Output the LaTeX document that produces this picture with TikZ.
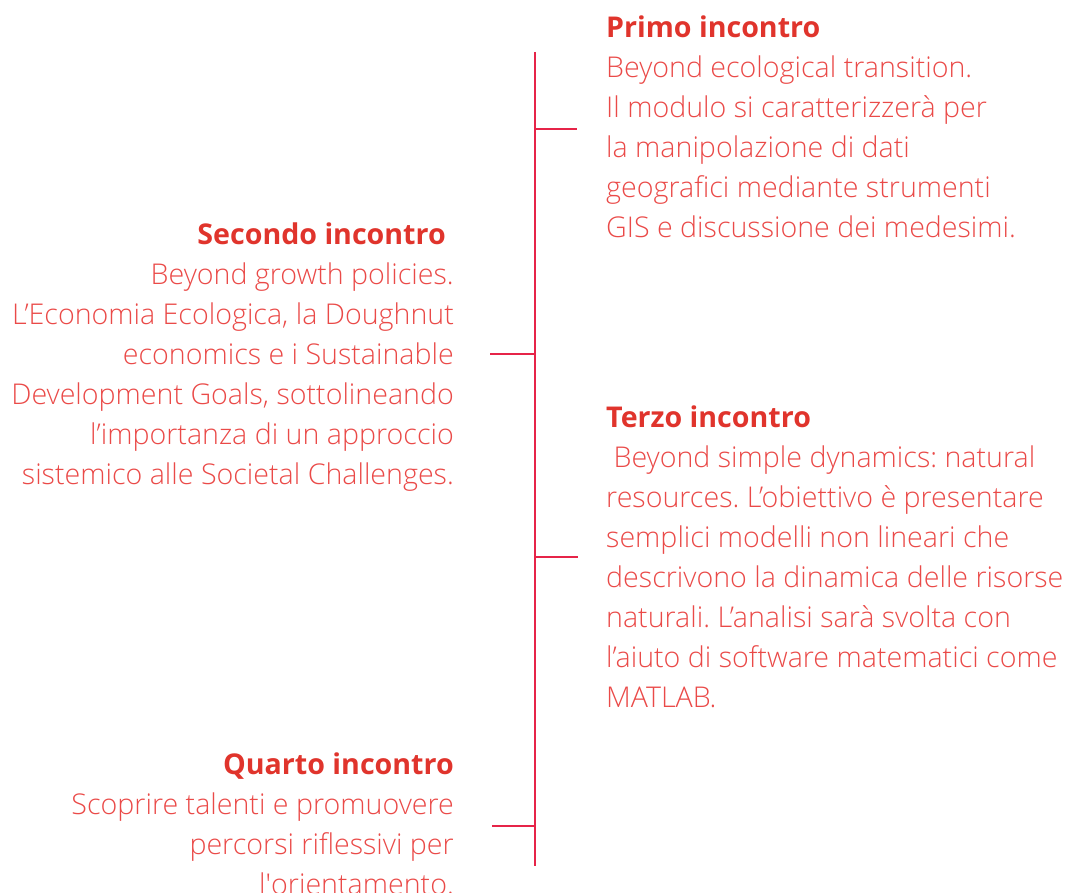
\documentclass[tikz,border=0pt]{standalone}
\usepackage{fontspec}
\setmainfont{Open Sans}[UprightFont={* Light},BoldFont={* Bold}]
\newfontfamily\plainquote{Open Sans}[UprightFont={* Light},Ligatures=ResetAll]
\usepackage{tikz}
\frenchspacing

\definecolor{textred}{RGB}{234,74,72}
\definecolor{headred}{RGB}{224,52,44}
\definecolor{linered}{RGB}{230,36,72}

\begin{document}
\begin{tikzpicture}[x=1pt,y=1pt,
		right node/.style={anchor=north west,align=left,inner sep=0pt,text=textred,
			font=\fontsize{28.6}{40}\selectfont},
		left node/.style={anchor=north east,align=right,inner sep=0pt,text=textred,
			font=\fontsize{28.6}{40}\selectfont},
		stub/.style={draw=linered,line width=1.6pt}]
	\useasboundingbox (0,0) rectangle (1066,892);
	% spine
	\coordinate (top) at (535,840);
	\coordinate (bot) at (535,26);
	\draw[stub] (top) -- (bot);
	% blocks
	\node[right node] (primo) at (606,883) {\strut\textcolor{headred}{\textbf{Primo incontro}}\\
		Beyond ecological transition.\\
		Il modulo si caratterizzerà per\\
		la manipolazione di dati\\
		geografici mediante strumenti\\
		GIS e discussione dei medesimi.};
	\node[left node] (secondo) at (454,676) {\strut\textcolor{headred}{\textbf{Secondo incontro}}\kern8pt\\
		Beyond growth policies.\\
		L’Economia Ecologica, la Doughnut\\
		economics e i Sustainable\\
		Development Goals, sottolineando\\
		l’importanza di un approccio\\
		sistemico alle Societal Challenges.};
	\node[right node] (terzo) at (606,493) {\strut\textcolor{headred}{\textbf{Terzo incontro}}\\
		\ Beyond simple dynamics: natural\\
		resources. L’obiettivo è presentare\\
		semplici modelli non lineari che\\
		descrivono la dinamica delle risorse\\
		naturali. L’analisi sarà svolta con\\
		l’aiuto di software matematici come\\
		MATLAB.};
	\node[left node] (quarto) at (454,146) {\strut\textcolor{headred}{\textbf{Quarto incontro}}\\
		Scoprire talenti e promuovere\\
		percorsi riflessivi per\\
		l{\plainquote'}orientamento.};
	% stubs
	\coordinate (s1) at (535,763);
	\coordinate (e1) at (577,763);
	\coordinate (s2) at (535,538);
	\coordinate (e2) at (490,538);
	\coordinate (s3) at (535,335);
	\coordinate (e3) at (578,335);
	\coordinate (s4) at (535,66);
	\coordinate (e4) at (492,66);
	\draw[stub] (s1) -- (e1);
	\draw[stub] (s2) -- (e2);
	\draw[stub] (s3) -- (e3);
	\draw[stub] (s4) -- (e4);
\end{tikzpicture}
\end{document}
